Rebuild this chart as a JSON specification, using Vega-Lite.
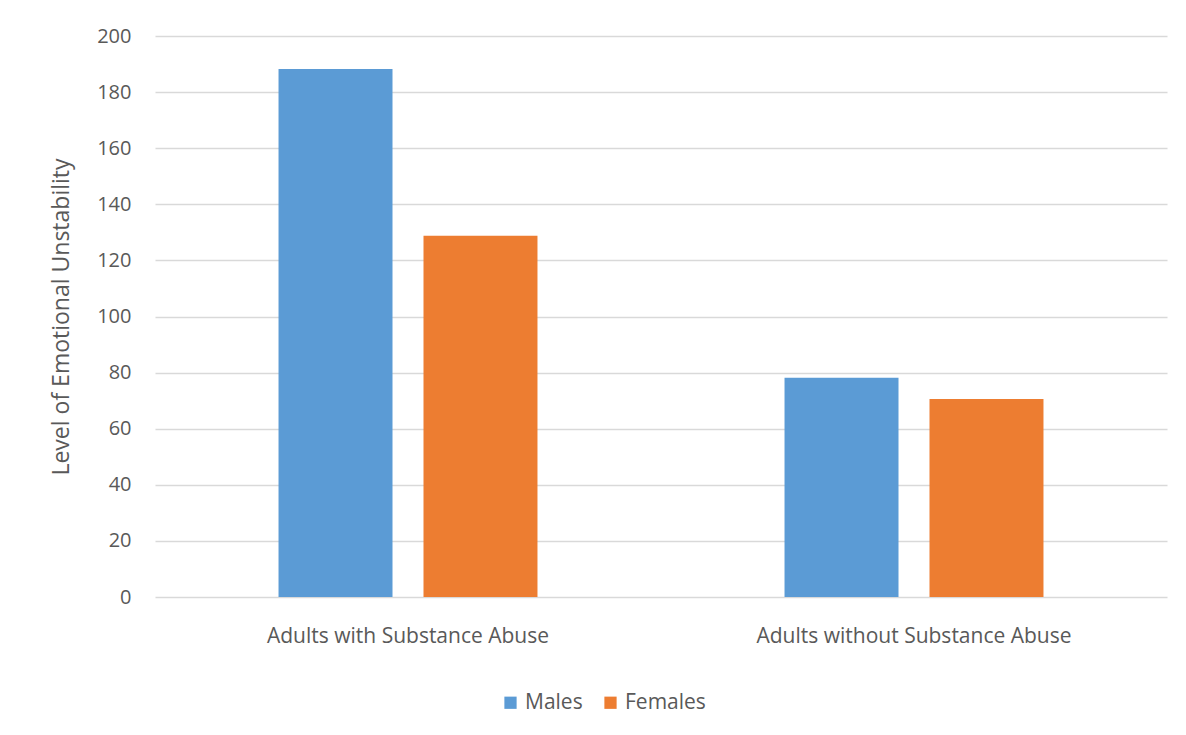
{
  "$schema": "https://vega.github.io/schema/vega-lite/v6.json",
  "width": 1012,
  "height": 561,
  "autosize": {"type": "none"},
  "padding": {"left": 155, "top": 36, "right": 19, "bottom": 138},
  "background": "white",
  "data": {
    "values": [
      {"group": "Adults with Substance Abuse", "sex": "Males", "value": 188.2},
      {"group": "Adults with Substance Abuse", "sex": "Females", "value": 128.8},
      {"group": "Adults without Substance Abuse", "sex": "Males", "value": 78.2},
      {"group": "Adults without Substance Abuse", "sex": "Females", "value": 70.6}
    ]
  },
  "mark": {"type": "bar"},
  "encoding": {
    "x": {
      "field": "group", "type": "nominal", "sort": null,
      "scale": {"paddingInner": 0, "paddingOuter": 0},
      "axis": {"title": null, "labelAngle": 0, "ticks": false, "domain": false, "grid": false, "labelPadding": 28, "labelFontSize": 21, "labelLimit": 0, "labelColor": "#595959", "labelFont": "Open Sans"}
    },
    "xOffset": {
      "field": "sex", "type": "nominal", "sort": ["Males", "Females"],
      "scale": {"paddingInner": 0.2138, "paddingOuter": 0.852}
    },
    "y": {
      "field": "value", "type": "quantitative",
      "scale": {"domain": [0, 200], "nice": false},
      "axis": {"values": [0, 20, 40, 60, 80, 100, 120, 140, 160, 180, 200], "title": "Level of Emotional Unstability", "ticks": false, "domain": false, "gridColor": "#D9D9D9", "gridWidth": 1.3, "labelPadding": 24, "labelFontSize": 20, "labelColor": "#595959", "labelFont": "Open Sans", "titleFont": "Open Sans", "titleFontSize": 23, "titleFontWeight": "normal", "titleColor": "#595959", "titlePadding": 23}
    },
    "color": {
      "field": "sex", "type": "nominal", "sort": ["Males", "Females"],
      "scale": {"domain": ["Males", "Females"], "range": ["#5B9BD5", "#ED7D31"]},
      "legend": {"title": null, "orient": "none", "direction": "horizontal", "legendX": 345, "legendY": 656, "symbolType": "square", "symbolSize": 150, "symbolStrokeWidth": 0, "labelFontSize": 21, "labelColor": "#595959", "labelFont": "Open Sans", "columnPadding": 17, "labelOffset": 4}
    }
  },
  "config": {"view": {"stroke": null}}
}
